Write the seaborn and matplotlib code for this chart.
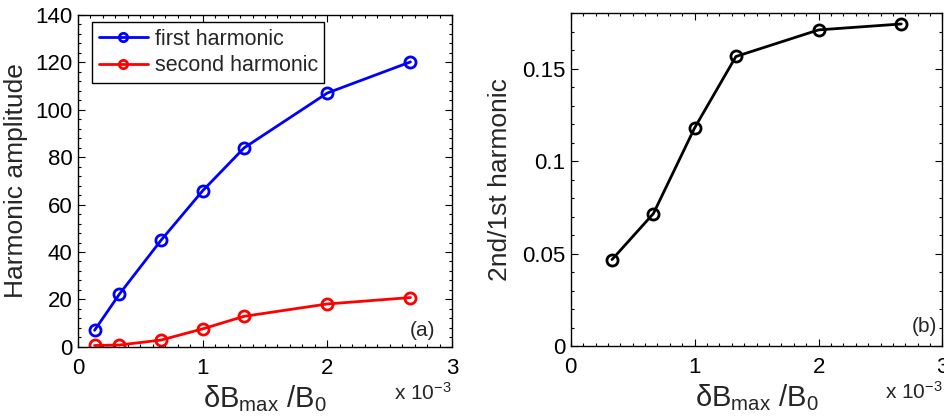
import numpy as np
import pandas as pd
import matplotlib
matplotlib.use("Agg")
import matplotlib.pyplot as plt
from matplotlib.ticker import MultipleLocator
import seaborn as sns

# data (x in units of 1e-3)
x_amp = [0.133, 0.333, 0.667, 1.0, 1.333, 2.0, 2.667]
first_harmonic = [7.0, 22.3, 45.0, 65.8, 83.9, 107.0, 120.1]
second_harmonic = [0.6, 0.8, 2.9, 7.6, 12.9, 18.1, 20.8]

x_ratio = [0.333, 0.667, 1.0, 1.333, 2.0, 2.667]
ratio = [0.0468, 0.0717, 0.1181, 0.1567, 0.1711, 0.1743]

series_labels = ["first harmonic", "second harmonic"]
series_colors = ["#0000ff", "#ff0000"]

sns.set_style("ticks")
plt.rcParams["font.family"] = ["Liberation Sans", "DejaVu Sans"]
plt.rcParams["mathtext.fontset"] = "custom"
plt.rcParams["mathtext.rm"] = "Liberation Sans"
plt.rcParams["mathtext.it"] = "Liberation Sans"

fig = plt.figure(figsize=(9.44, 4.2), dpi=100)
ax1 = fig.add_axes([0.0826, 0.174, 0.3962, 0.791])
ax2 = fig.add_axes([0.6046, 0.176, 0.3938, 0.792])

df_amp = pd.DataFrame({
    "x": x_amp * 2,
    "y": first_harmonic + second_harmonic,
    "series": [series_labels[0]] * len(x_amp) + [series_labels[1]] * len(x_amp),
})
df_ratio = pd.DataFrame({"x": x_ratio, "y": ratio})

line_kw = dict(linewidth=2.0, marker="o", markersize=8, markerfacecolor="none",
               markeredgewidth=2.0)

sns.lineplot(data=df_amp, x="x", y="y", hue="series", palette=series_colors,
             hue_order=series_labels, ax=ax1, **line_kw)
sns.lineplot(data=df_ratio, x="x", y="y", color="black", ax=ax2, **line_kw)

for ax in (ax1, ax2):
    for ln in ax.get_lines():
        ln.set_markeredgecolor(ln.get_color())
        ln.set_markerfacecolor("none")
    ax.set_xlim(0, 3)
    ax.xaxis.set_major_locator(MultipleLocator(1))
    ax.xaxis.set_minor_locator(MultipleLocator(0.1))
    ax.tick_params(which="both", direction="in", top=True, right=True,
                   labelsize=16, colors="black", width=0.8)
    ax.tick_params(which="major", length=5)
    ax.tick_params(axis="x", which="major", pad=8)
    ax.tick_params(axis="y", which="major", pad=4)
    ax.tick_params(which="minor", length=2.5)
    for s in ax.spines.values():
        s.set_linewidth(1.0)
        s.set_color("black")
    ax.set_xlabel(r"$\mathregular{\delta B_{max}\ /B_0}$", fontsize=21, labelpad=3)
    ax.text(1.0, -0.105, r"x 10$^{\mathregular{-3}}$", transform=ax.transAxes,
            ha="right", va="top", fontsize=15)

ax1.set_ylim(0, 140)
ax1.yaxis.set_major_locator(MultipleLocator(20))
ax1.yaxis.set_minor_locator(MultipleLocator(4))
ax1.set_ylabel("Harmonic amplitude", fontsize=19, labelpad=5)
ax1.text(0.955, 0.02, "(a)", transform=ax1.transAxes, ha="right", va="bottom", fontsize=15)

ax2.set_ylim(0, 0.18)
ax2.yaxis.set_major_locator(MultipleLocator(0.05))
ax2.yaxis.set_minor_locator(MultipleLocator(0.01))
ax2.yaxis.set_major_formatter(matplotlib.ticker.FuncFormatter(
    lambda v, p: "0" if abs(v) < 1e-9 else ("%g" % round(v, 3))))
ax2.set_ylabel("2nd/1st harmonic", fontsize=19, labelpad=7)
ax2.text(0.985, 0.03, "(b)", transform=ax2.transAxes, ha="right", va="bottom", fontsize=15)

leg = ax1.legend(loc="upper left", bbox_to_anchor=(0.038, 0.977), fontsize=15.5,
                 frameon=True, fancybox=False, framealpha=1, edgecolor="black",
                 handlelength=2.3, handletextpad=0.3, borderpad=0.3,
                 labelspacing=0.25, borderaxespad=0)
leg.get_frame().set_linewidth(1.0)
for h in leg.legend_handles:
    h.set_markersize(6)
    h.set_markeredgecolor(h.get_color())
    h.set_markerfacecolor("none")

fig.savefig("out.png", dpi=100)
